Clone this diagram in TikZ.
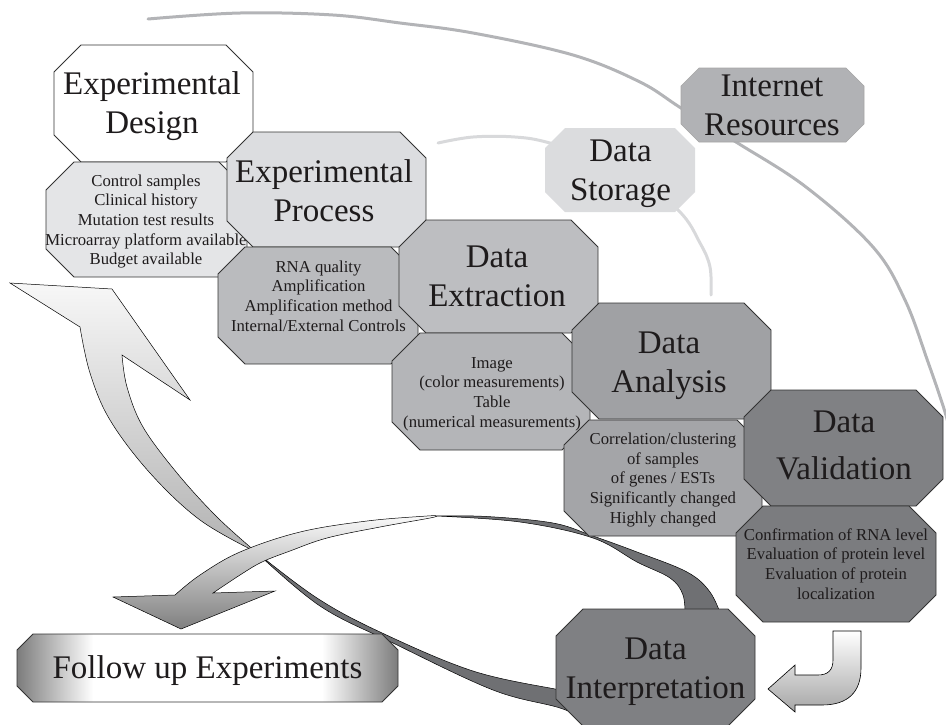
\documentclass[tikz,border=0pt]{standalone}
\usepackage{fontspec}
\setmainfont{Liberation Serif}
\definecolor{ink}{HTML}{1E1B1C}
\definecolor{edge}{HTML}{333333}
\definecolor{cED}{HTML}{FFFFFF}
\definecolor{cS1}{HTML}{E4E5E7}
\definecolor{cEP}{HTML}{DCDDE0}
\definecolor{cS2}{HTML}{BABBBE}
\definecolor{cDE}{HTML}{BDBEC1}
\definecolor{cS3}{HTML}{B4B5B8}
\definecolor{cDA}{HTML}{A0A1A4}
\definecolor{cS4}{HTML}{A4A5A8}
\definecolor{cDV}{HTML}{808184}
\definecolor{cS5}{HTML}{7B7C7F}
\definecolor{cDI}{HTML}{7F8083}
\definecolor{cIR}{HTML}{B1B2B5}
\definecolor{cDS}{HTML}{DBDCDE}
\definecolor{arcdark}{HTML}{B3B4B7}
\definecolor{arclight}{HTML}{D8D9DB}
\definecolor{ribbondark}{HTML}{6F7073}
\definecolor{btndark}{HTML}{7C7C7C}
\pgfdeclarehorizontalshading{buttonshade}{100bp}{color(0bp)=(btndark); color(25bp)=(btndark); color(35bp)=(white); color(65bp)=(white); color(75bp)=(btndark); color(100bp)=(btndark)}
% octagon: style, x1, y1, x2, y2, chamfer
\newcommand\octbox[6]{%
  \path[#1] ({#2+#6},#3) -- ({#4-#6},#3) -- (#4,{#3+#6}) -- (#4,{#5-#6})
    -- ({#4-#6},#5) -- ({#2+#6},#5) -- (#2,{#5-#6}) -- (#2,{#3+#6}) -- cycle;}
\begin{document}
\begin{tikzpicture}[x=1pt,y=-1pt,
  box/.style={draw=edge, line width=0.9pt, line join=miter},
  title/.style={font=\fontsize{33}{39}\selectfont, align=center, inner sep=0pt, text=ink},
  detail/.style={font=\fontsize{16.7}{19.7}\selectfont, align=center, inner sep=0pt, text=ink},
  darkribbon/.style={fill=ribbondark, draw=black, line width=0.5pt, line join=round},
  lightribbon/.style={top color=black!3, bottom color=black!30, draw=black, line width=0.5pt, line join=miter},
  downribbon/.style={top color=black!2, bottom color=black!50, draw=black, line width=0.5pt, line join=miter},
  arcline/.style={line width=3pt, line cap=round}]
\useasboundingbox (0,0) rectangle (946,724);
\clip (0,0) rectangle (946,724);

% outer arc through the internet resources
\draw[arcline, arcdark] plot[smooth, tension=0.6] coordinates {(148,19) (240,13) (333,15) (400,23) (473,33) (573,55) (640,82) (681,108) (736,142) (806,187) (873,247) (905,300) (928,362) (945,412) (952,440)};
% inner arc through the data storage
\draw[arcline, arclight] plot[smooth, tension=0.6] coordinates {(438,143) (473,137) (515,137) (550,143) (620,165) (678,210) (700,243) (710,267) (711,295)};

% ribbon arrow from interpretation back to the design
\path[darkribbon] plot[smooth, tension=0.6] coordinates {(256,552) (317,598) (380,632) (473,671) (560,690) (585,695)}
  -- plot[smooth, tension=0.6] coordinates {(590,722) (560,708) (493,690) (393,643) (320,606) (256,552)} -- cycle;
\path[lightribbon] plot[smooth, tension=0.6] coordinates {(256,552) (200,520) (150,473) (110,420) (90,373) (80,327)}
  -- (10,283) -- (112,289) -- (190,400)
  -- plot[smooth, tension=0.6] coordinates {(122,355) (127,387) (143,427) (177,473) (217,517) (256,552)} -- cycle;

% ribbon arrow from interpretation to the follow up experiments
\path[darkribbon] plot[smooth, tension=0.6] coordinates {(436,516) (487,516.5) (553,523) (593,536) (637,552) (687,572) (710,592) (722,618)}
  -- plot[smooth, tension=0.6] coordinates {(685,618) (683,595) (670,578) (637,562) (593,538) (520,522) (436,516)} -- cycle;
\path[downribbon] plot[smooth, tension=0.6] coordinates {(436,516) (427,516) (367,521) (300,532) (240,552) (200,575) (175,595)}
  -- (113,597) -- (181,629) -- (275,591)
  -- plot[smooth, tension=0.6] coordinates {(213,593) (240,575) (262,562) (290,551) (327,538) (380,527) (430,518) (436,516)} -- cycle;

% hook arrow from validation to interpretation
\path[top color=white, bottom color=black!35, draw=black, line width=0.6pt, line join=miter]
  (833,631) -- (861,631) -- (861,668) .. controls (861,692) and (848,705) .. (822,705)
  -- (795,705) -- (795,712) -- (768,689) -- (795,665) -- (795,675) -- (818,675)
  .. controls (828,675) and (833,670) .. (833,660) -- cycle;

% process steps and their details
\octbox{box, fill=cED}{54}{45}{253}{162}{27}
\node[title] (ed) at (152,106) {\strut Experimental\\Design\strut};
\octbox{box, fill=cS1}{46}{162}{247}{277}{28}
\node[detail] (s1) at (146,221.6) {\strut Control samples\\Clinical history\\Mutation test results\\Microarray platform available\\Budget available\strut};
\octbox{box, fill=cEP}{227}{132}{426}{247}{26}
\node[title] (ep) at (324,194) {\strut Experimental\\Process\strut};
\octbox{box, fill=cS2}{218}{247}{418}{364}{27}
\node[detail] (s2) at (318.5,297.8) {\strut RNA quality\\Amplification\\Amplification method\\Internal/External Controls\strut};
\octbox{box, fill=cDE}{399}{220}{598}{333}{27}
\node[title] (de) at (497,279) {\strut Data\\Extraction\strut};
\octbox{box, fill=cS3}{392}{333}{590}{450}{28}
\node[detail] (s3) at (492,393.7) {\strut Image\\(color measurements)\\Table\\(numerical measurements)\strut};
\octbox{box, fill=cDA}{572}{303}{771}{419}{27}
\node[title] (da) at (669,365.5) {\strut Data\\Analysis\strut};
\octbox{box, fill=cS4}{564}{420}{762}{536}{25}
\node[detail] (s4) at (663,479.8) {\strut Correlation/clustering\\of samples\\of genes / ESTs\\Significantly changed\\Highly changed\strut};
\octbox{box, fill=cDV}{744}{390}{943}{506}{27}
\node[title, font=\fontsize{33}{47}\selectfont] (dv) at (844,446.3) {\strut Data\\Validation\strut};
\octbox{box, fill=cS5}{736}{506}{936}{622}{27}
\node[detail] (s5) at (836,565.7) {\strut Confirmation of RNA level\\Evaluation of protein level\\Evaluation of protein\\localization\strut};
\octbox{box, fill=cDI}{556}{609}{755}{726}{27}
\node[title] (di) at (655.5,671) {\strut Data\\Interpretation\strut};

% resources
\octbox{draw=black!35, line width=0.6pt, fill=cIR}{681}{68}{864}{142}{18}
\node[title] (ir) at (772,108) {\strut Internet\\Resources\strut};
\octbox{fill=cDS}{545}{128}{695}{212}{20}
\node[title] (ds) at (620.5,173) {\strut Data\\Storage\strut};

% follow up
\octbox{box, shade, shading=buttonshade}{17}{634}{398}{702}{16}
\node[title] (fu) at (207.5,671) {\strut Follow up Experiments};
\end{tikzpicture}
\end{document}
